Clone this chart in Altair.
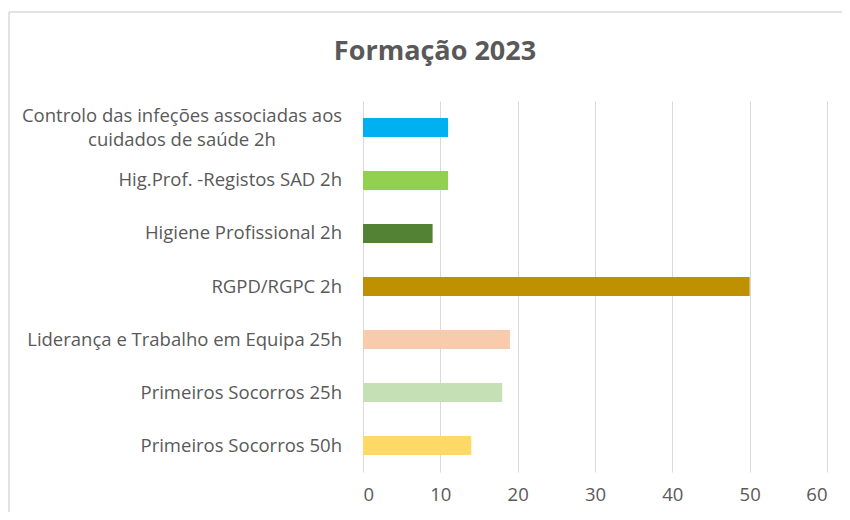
import altair as alt
import pandas as pd

title_text = "Formação 2023"
categories = [
    "Controlo das infeções associadas aos\ncuidados de saúde 2h",
    "Hig.Prof. -Registos SAD 2h",
    "Higiene Profissional 2h",
    "RGPD/RGPC 2h",
    "Liderança e Trabalho em Equipa 25h",
    "Primeiros Socorros 25h",
    "Primeiros Socorros 50h",
]
values = [11, 11, 9, 50, 19, 18, 14]
colors = ["#00B0F0", "#92D050", "#548235", "#BF9000", "#F8CBAD", "#C5E0B4", "#FFD966"]
x_ticks = [0, 10, 20, 30, 40, 50, 60]

df = pd.DataFrame({"cat": categories, "val": values})
df["multi"] = df["cat"].str.contains("\n")

FONT = "Open Sans"
GREY = "#595959"
LFS = 18.5

y_enc = alt.Y("cat:N", sort=categories,
              scale=alt.Scale(paddingInner=0.643, paddingOuter=0.321),
              axis=None)

one = pd.DataFrame({"a": [0]})
frame_top = alt.Chart(one).mark_rule(
    stroke="#D9D9D9", strokeWidth=1.5, clip=False
).encode(x=alt.value(-354), x2=alt.value(520), y=alt.value(-89))
frame_left = alt.Chart(one).mark_rule(
    stroke="#D9D9D9", strokeWidth=1.5, clip=False
).encode(x=alt.value(-354), y=alt.value(-89), y2=alt.value(460))

title = alt.Chart(pd.DataFrame({"t": [title_text]})).mark_text(
    font=FONT, fontSize=27, fontWeight="bold", color=GREY,
    align="center", baseline="middle"
).encode(x=alt.value(72), y=alt.value(-49), text="t:N")

bars = alt.Chart(df).mark_bar(size=19).encode(
    x=alt.X("val:Q",
            scale=alt.Scale(domain=[0, 60], nice=False),
            axis=alt.Axis(values=x_ticks, title=None, domain=False, ticks=False,
                          grid=True, gridColor="#D9D9D9", gridWidth=1,
                          labelFont=FONT, labelFontSize=LFS, labelColor=GREY,
                          labelPadding=13)),
    y=y_enc,
    color=alt.Color("cat:N", scale=alt.Scale(domain=categories, range=colors), legend=None),
)

labels_single = alt.Chart(df).transform_filter("!datum.multi").mark_text(
    align="right", baseline="middle", font=FONT, fontSize=LFS, color=GREY
).encode(y=y_enc, x=alt.value(-21), text="cat:N")

labels_multi = alt.Chart(df).transform_filter("datum.multi").mark_text(
    align="center", baseline="middle", font=FONT, fontSize=LFS, color=GREY,
    lineBreak="\n", lineHeight=24, dy=-11
).encode(y=y_enc, x=alt.value(-181), text="cat:N")

chart = alt.layer(frame_top, frame_left, title, bars, labels_single, labels_multi).properties(
    width=464, height=371,
    autosize=alt.AutoSizeParams(type="none"),
    padding={"left": 355, "top": 93, "right": 15, "bottom": 40},
).configure_view(stroke=None)

chart.save("out.html", embed_options={"renderer": "svg", "actions": False})
